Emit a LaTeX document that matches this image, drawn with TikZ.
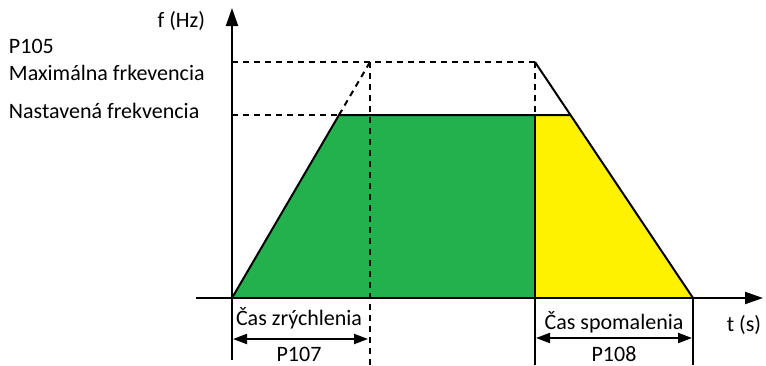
\documentclass[tikz,border=0pt]{standalone}
\usepackage{fontspec}
\setmainfont{Carlito}
\usetikzlibrary{arrows.meta}
\definecolor{grn}{HTML}{22B14C}
\definecolor{ylw}{HTML}{FFF200}
\begin{document}
\begin{tikzpicture}[x=1pt,y=-1pt,
  line width=2pt,
  axis/.style={-{Triangle[length=18pt,width=12pt]}},
  dim/.style={{Triangle[length=14pt,width=10pt]}-{Triangle[length=14pt,width=10pt]}},
  dsh/.style={dash pattern=on 6pt off 5pt},
  lbl/.style={font=\fontsize{22}{24}\selectfont, inner sep=0pt}]
\useasboundingbox (0,0) rectangle (766,365);
% key points
\coordinate (O) at (232,298);
\coordinate (A) at (339,115);
\coordinate (B) at (535,115);
\coordinate (C) at (570,115);
\coordinate (D) at (693,298);
\coordinate (E) at (535,298);
\coordinate (M1) at (370,62);
\coordinate (M2) at (535,62);
\coordinate (Ytop) at (232,8);
\coordinate (Ybot) at (232,360);
\coordinate (Xl) at (196,298);
\coordinate (Xr) at (763,298);
\coordinate (Ymax) at (232,62);
\coordinate (Yset) at (232,115);
% fills
\fill[grn] (O) -- (A) -- (B) -- (E) -- cycle;
\fill[ylw] (E) -- (B) -- (C) -- (D) -- cycle;
% dashed guides
\draw[dsh] (Ymax) -- (M1) -- (M2);
\draw[dsh] (Yset) -- (A);
\draw[dsh] (A) -- (M1);
\draw[dsh] (M1) -- (370,365);
\draw[dsh] (M2) -- (B);
% solid outline
\draw (O) -- (A) -- (C);
\draw (M2) -- (D);
\draw (B) -- (535,365);
\draw (D) -- (693,365);
% axes
\draw[axis] (Ybot) -- (Ytop);
\draw[axis] (Xl) -- (Xr);
% dimension arrows
\draw[dim] (233,339) -- (368,339);
\draw[dim] (536,338) -- (692,338);
% labels
\node[lbl, anchor=base east] (fhz) at (206,27) {f (Hz)};
\node[lbl, anchor=base west] (p105) at (8,53) {P105};
\node[lbl, anchor=base west] (maxf) at (8,80) {Maximálna frkevencia};
\node[lbl, anchor=base west] (setf) at (8,118) {Nastavená frekvencia};
\node[lbl, anchor=base] (acc) at (299,325) {Čas zrýchlenia};
\node[lbl, anchor=base] (p107) at (299,361) {P107};
\node[lbl, anchor=base] (dec) at (614,329) {Čas spomalenia};
\node[lbl, anchor=base] (p108) at (614,361) {P108};
\node[lbl, anchor=base] (ts) at (744,331) {t (s)};
\end{tikzpicture}
\end{document}
